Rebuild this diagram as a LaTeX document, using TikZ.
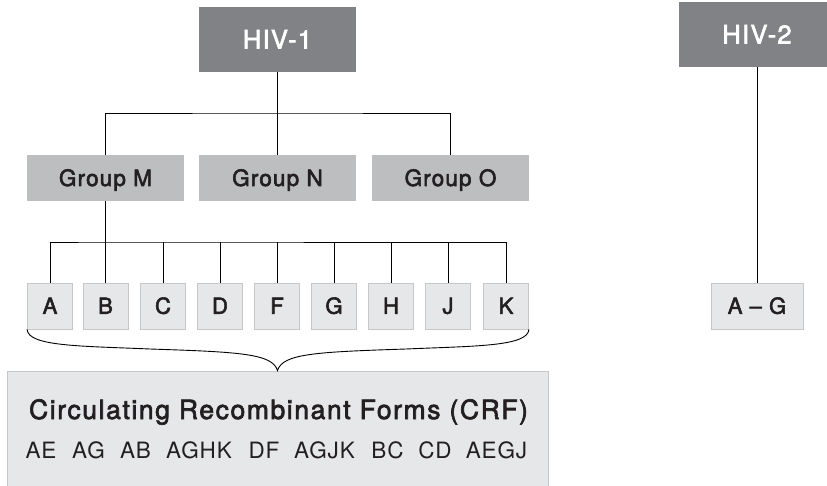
\documentclass[tikz,border=0pt]{standalone}
\usepackage{fontspec}
\setmainfont{TeX Gyre Heros}
\newfontfamily\medfont[FakeBold=2.5,LetterSpace=5]{TeX Gyre Heros}
\newfontfamily\titlefont[FakeBold=2.5,LetterSpace=6]{TeX Gyre Heros}
\newfontfamily\lightfont[LetterSpace=4]{TeX Gyre Heros}
\definecolor{hivdark}{RGB}{129,130,133}
\definecolor{grpgray}{RGB}{188,190,192}
\definecolor{lightfill}{RGB}{230,231,232}
\definecolor{lightborder}{RGB}{198,199,201}
\definecolor{ink}{RGB}{35,31,32}
\begin{document}
\begin{tikzpicture}[x=1pt,y=-1pt,
  darkbox/.style={fill=hivdark, text=white, minimum width=157pt, minimum height=65pt, inner sep=0pt,
    text height=18pt, text depth=0pt, font=\medfont\fontsize{25.5}{30}\selectfont},
  grpbox/.style={fill=grpgray, text=ink, minimum width=157pt, minimum height=46pt, inner sep=0pt,
    text height=16pt, text depth=0pt, font=\medfont\fontsize{22.5}{26}\selectfont},
  subbox/.style={fill=lightfill, draw=lightborder, line width=0.8pt, text=ink, minimum width=45pt,
    minimum height=46pt, inner sep=0pt, text height=15.5pt, text depth=0pt, font=\medfont\fontsize{22}{25}\selectfont},
  crfbox/.style={fill=lightfill, draw=lightborder, line width=0.8pt, minimum width=541pt, minimum height=129pt, inner sep=0pt},
  crftitle/.style={anchor=base, text=ink, inner sep=0pt, font=\titlefont\fontsize{26.5}{30}\selectfont},
  crfitem/.style={anchor=base, text=ink, inner sep=0pt, font=\lightfont\fontsize{22.5}{26}\selectfont},
  conn/.style={draw=black, line width=0.9pt}]
\useasboundingbox (0,0) rectangle (827,486);
\clip (0,0) rectangle (827,486);

% HIV-1 tree
\node[darkbox] (hiv1) at (277.5,39.5) {HIV-1};
\node[grpbox] (gM) at (105.5,178) {Group M};
\node[grpbox] (gN) at (277.5,178) {Group N};
\node[grpbox] (gO) at (450.5,178) {Group O};
\coordinate (bus1) at (277.5,113);
\draw[conn] (hiv1.south) -- (bus1);
\draw[conn] (gM.north) |- (bus1) -| (gO.north);
\draw[conn] (gN.north) -- (bus1);

% subtypes
\node[subbox] (sA) at (50,306) {A};
\node[subbox] (sB) at (105.5,306) {B};
\node[subbox] (sC) at (163,306) {C};
\node[subbox] (sD) at (220,306) {D};
\node[subbox] (sF) at (277,306) {F};
\node[subbox] (sG) at (334,306) {G};
\node[subbox] (sH) at (391,306) {H};
\node[subbox] (sJ) at (448,306) {J};
\node[subbox] (sK) at (506,306) {K};
\coordinate (bus2) at (105.5,242);
\draw[conn] (gM.south) -- (bus2);
\draw[conn] (sA.north) |- (bus2) -| (sK.north);
\foreach \n in {sB,sC,sD,sF,sG,sH,sJ}{
  \draw[conn] (\n.north) -- (\n.north |- bus2);
}

% CRF box
\node[crfbox] (crf) at (277.5,435.5) {};
\coordinate (bl) at (150,349);
\coordinate (br) at (406,349);
\draw[conn] (sA.south west) .. controls +(1,17) and +(-70,-3) .. (bl)
  .. controls +(90,3) and +(-5,-17) .. (crf.north)
  .. controls +(5,-17) and +(-90,3) .. (br)
  .. controls +(70,-3) and +(-1,17) .. (sK.south east);

\node[crftitle] (title) at (278.5,419) {Circulating Recombinant Forms (CRF)};
\node[crfitem] (c1) at (41,458) {AE};
\node[crfitem] (c2) at (88.5,458) {AG};
\node[crfitem] (c3) at (135.5,458) {AB};
\node[crfitem] (c4) at (199,458) {AGHK};
\node[crfitem] (c5) at (264,458) {DF};
\node[crfitem] (c6) at (324.5,458) {AGJK};
\node[crfitem] (c7) at (387.5,458) {BC};
\node[crfitem] (c8) at (435,458) {CD};
\node[crfitem] (c9) at (496.5,458) {AEGJ};

% HIV-2
\node[darkbox] (hiv2) at (757,34.5) {HIV-2};
\node[subbox, minimum width=92pt] (ag) at (757,306) {A – G};
\draw[conn] (hiv2.south) -- (ag.north);
\end{tikzpicture}
\end{document}
